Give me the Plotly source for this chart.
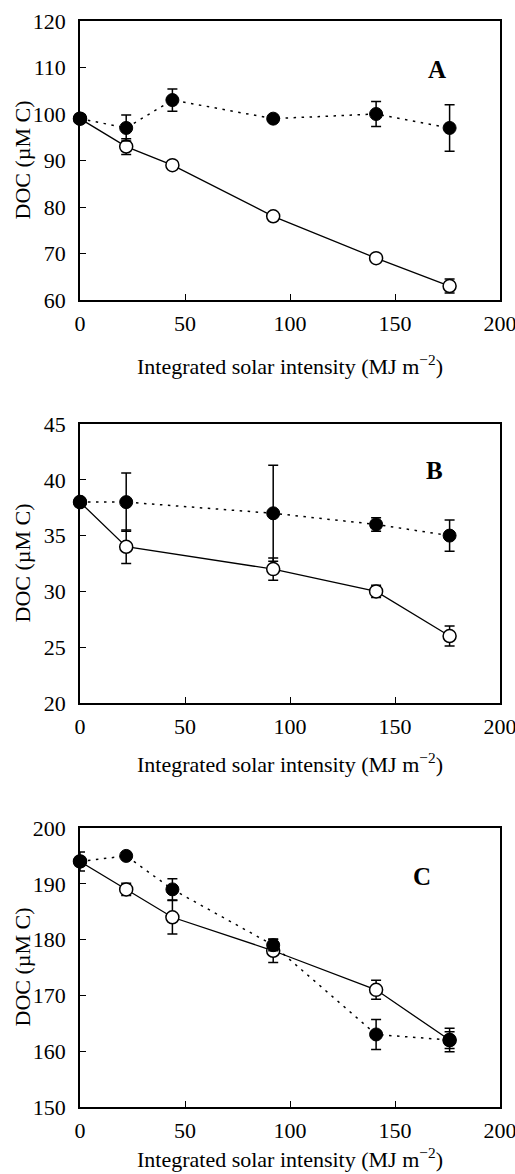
import plotly.graph_objects as go

W, H = 515, 1174

# ---- data ----
xA = [0, 22, 44, 92, 141, 176]
A_open = [99, 93, 89, 78, 69, 63]
A_open_err = [0.5, 1.7, 0.5, 0.5, 0.5, 1.5]
A_fill = [99, 97, 103, 99, 100, 97]
A_fill_err = [0.5, 2.8, 2.4, 0.5, 2.7, 5.0]

xB = [0, 22, 92, 141, 176]
B_open = [38, 34, 32, 30, 26]
B_open_err = [0.2, 1.5, 1.0, 0.55, 0.9]
B_fill = [38, 38, 37, 36, 35]
B_fill_err = [0.2, 2.6, 4.3, 0.6, 1.4]

xC = [0, 22, 44, 92, 141, 176]
C_open = [194, 189, 184, 178, 171, 162]
C_open_err = [0.5, 1.1, 3.0, 2.1, 1.7, 1.5]
C_fill = [194, 195, 189, 179, 163, 162]
C_fill_err = [1.7, 0.3, 1.9, 1.0, 2.7, 2.1]

panel_labels = ["A", "B", "C"]
label_pos = [(170, 109.5), (169, 40.8), (163, 191.3)]
y_ranges = [(60, 120), (20, 45), (150, 200)]
y_dticks = [10, 5, 10]
x_title = "Integrated solar intensity (MJ m<sup>−2</sup>)"
y_title = "DOC (µM C)"

FONT = "Liberation Serif"
FS_TICK = 22
FS_TITLE = 22

# pixel layout of the three plot areas (top, bottom)
plot_px = [(21, 300), (424, 703), (828, 1107)]
xtitle_px = [365, 763, 1158]
x_left, x_right = 80, 500

fig = go.Figure()

panels = [
    (xA, A_open, A_open_err, A_fill, A_fill_err),
    (xB, B_open, B_open_err, B_fill, B_fill_err),
    (xC, C_open, C_open_err, C_fill, C_fill_err),
]

for i, (xs, yo, eo, yf, ef) in enumerate(panels):
    sfx = "" if i == 0 else str(i + 1)
    fig.add_trace(go.Scatter(
        x=xs, y=yo, mode="lines+markers", xaxis="x" + sfx, yaxis="y" + sfx,
        line=dict(color="black", width=1.3),
        marker=dict(symbol="circle", size=13, color="white",
                    line=dict(color="black", width=1.5)),
        error_y=dict(type="data", array=eo, visible=True, color="black",
                     thickness=1.5, width=5),
        showlegend=False, cliponaxis=False))
    fig.add_trace(go.Scatter(
        x=xs, y=yf, mode="lines+markers", xaxis="x" + sfx, yaxis="y" + sfx,
        line=dict(color="black", width=1.5, dash="2.5px,5.5px"),
        marker=dict(symbol="circle", size=13, color="black",
                    line=dict(color="black", width=1)),
        error_y=dict(type="data", array=ef, visible=True, color="black",
                     thickness=1.5, width=5),
        showlegend=False, cliponaxis=False))

layout = dict(
    width=W, height=H, margin=dict(l=0, r=0, t=0, b=0, autoexpand=False),
    paper_bgcolor="white", plot_bgcolor="white",
    font=dict(family=FONT, size=FS_TICK, color="black"),
    annotations=[],
)

for i in range(3):
    sfx = "" if i == 0 else str(i + 1)
    top, bot = plot_px[i]
    layout["xaxis" + sfx] = dict(
        domain=[x_left / W, x_right / W], anchor="y" + sfx,
        range=[0, 200], tickmode="linear", tick0=0, dtick=50,
        showline=True, linecolor="black", linewidth=1.5, mirror=True,
        ticks="inside", ticklen=6, tickwidth=1, tickcolor="black",
        showgrid=False, zeroline=False, automargin=False,
        ticklabeloverflow="allow",
        tickfont=dict(family=FONT, size=FS_TICK, color="black"),
        ticklabelstandoff=3,
    )
    layout["yaxis" + sfx] = dict(
        domain=[1 - bot / H, 1 - top / H], anchor="x" + sfx,
        range=list(y_ranges[i]), tickmode="linear", tick0=y_ranges[i][0],
        dtick=y_dticks[i],
        showline=True, linecolor="black", linewidth=1.5, mirror=True,
        ticks="inside", ticklen=6, tickwidth=1, tickcolor="black",
        showgrid=False, zeroline=False, automargin=False,
        ticklabeloverflow="allow",
        tickfont=dict(family=FONT, size=FS_TICK, color="black"),
        ticklabelstandoff=8,
    )
    # x title
    layout["annotations"].append(dict(
        text=x_title, xref="paper", yref="paper",
        x=((x_left + x_right) / 2) / W, y=1 - xtitle_px[i] / H,
        xanchor="center", yanchor="middle", showarrow=False, borderpad=0,
        font=dict(family=FONT, size=FS_TITLE, color="black")))
    # y title
    layout["annotations"].append(dict(
        text=y_title, xref="paper", yref="paper", textangle=-90,
        x=22 / W, y=1 - ((top + bot) / 2) / H,
        xanchor="center", yanchor="middle", showarrow=False,
        font=dict(family=FONT, size=FS_TITLE, color="black")))
    # panel label
    lx, ly = label_pos[i]
    layout["annotations"].append(dict(
        text="<b>" + panel_labels[i] + "</b>", xref="x" + sfx, yref="y" + sfx,
        x=lx, y=ly, xanchor="center", yanchor="middle", showarrow=False,
        font=dict(family=FONT, size=25, color="black")))

fig.update_layout(**layout)
fig.write_html("out.html")
